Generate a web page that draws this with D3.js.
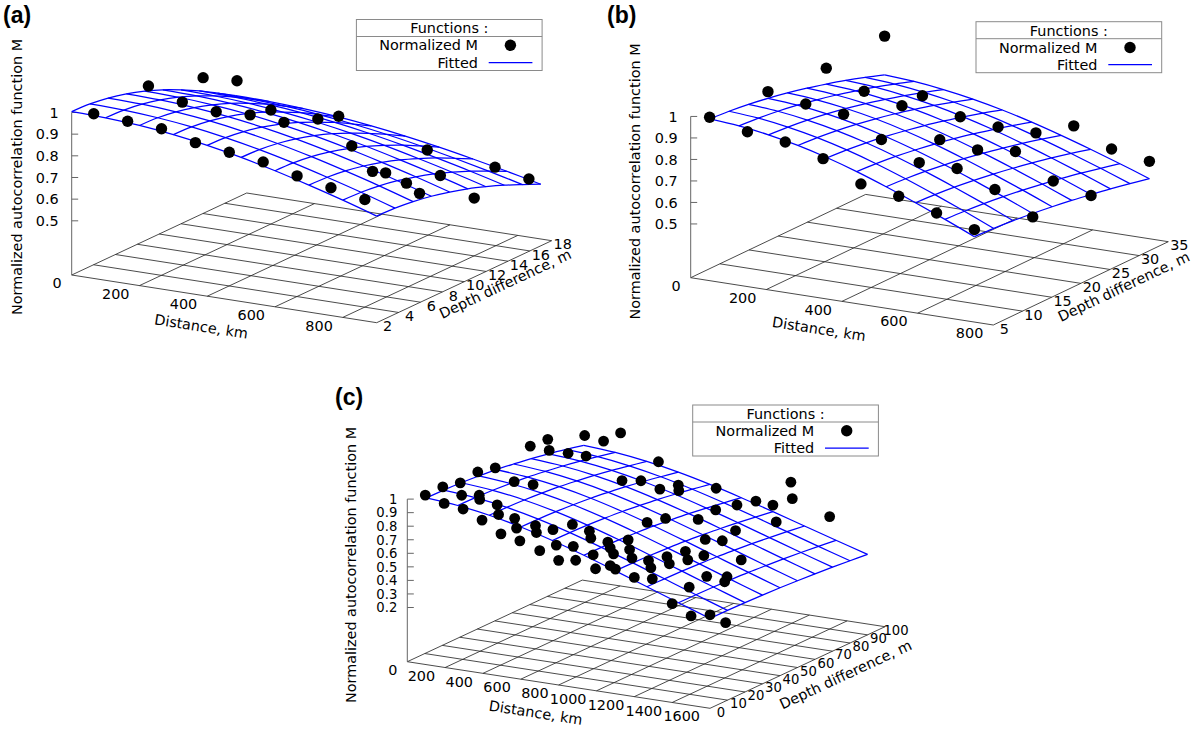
<!DOCTYPE html>
<html><head><meta charset="utf-8">
<script src="https://cdn.jsdelivr.net/npm/d3@7"></script>
<style>body{margin:0;background:#fff}</style>
</head><body>
<svg id="chart" width="1200" height="729" xmlns="http://www.w3.org/2000/svg"></svg>
<script>
// ---------------- DATA ----------------
// Panel (a)
const aXTicks = [0,200,400,600,800];
const aYTicks = [2,4,6,8,10,12,14,16,18];
const aZTicks = [0.5,0.6,0.7,0.8,0.9,1];
const aDistance = [65,165,265,365,465,565,665,765,865, 65,165,265,365,465,565,665,765,865, 65,165,265,465,565,665,765,865, 565,765,865];
const aDepth    = [2,2,2,2,2,2,2,2,2, 7,7,7,7,7,7,7,7,7, 12,12,12,12,12,12,12,12, 17,17,17];
const aM        = [1.01,1.00,0.99,0.95,0.93,0.91,0.87,0.84,0.81, 1.02,0.97,0.95,0.96,0.95,0.99,0.89,0.79,0.72, 0.94,0.95,0.84,0.86,0.63,0.60,0.66,0.58, 0.61,0.58,0.55];
const aFitDistance = [0,100,200,300,400,500,600,700,800,900];
const aFitDistFactor = [1.004,1.000,0.989,0.971,0.946,0.915,0.878,0.836,0.791,0.742];
const aFitDepth = [2,3.67,5.33,7,8.67,10.33,12,13.67,15.33,17];
const aFitDepthFactor = [1,0.996,0.984,0.964,0.937,0.904,0.864,0.820,0.771,0.720];

// Panel (b)
const bXTicks = [0,200,400,600,800];
const bYTicks = [5,10,15,20,25,30,35];
const bZTicks = [0.5,0.6,0.7,0.8,0.9,1];
const bDistance = [50,150,250,350,450,550,650,750, 50,150,250,350,450,550,650,750, 50,150,250,350,450,550,650,750, 50,150,250,350,450,550,650,750];
const bDepth    = [5,5,5,5,5,5,5,5, 15,15,15,15,15,15,15,15, 25,25,25,25,25,25,25,25, 35,35,35,35,35,35,35,35];
const bM        = [1.01,0.97,0.95,0.90,0.81,0.78,0.73,0.68, 1.00,0.97,0.95,0.86,0.78,0.78,0.71,0.61, 0.98,0.90,0.86,0.73,0.71,0.73,0.62,0.58, 1.00,0.75,0.68,0.66,0.66,0.72,0.64,0.61];
const bFitDistance = [50,127.8,205.6,283.3,361.1,438.9,516.7,594.4,672.2,750];
const bFitDistFactor = [1.002,0.991,0.971,0.943,0.907,0.864,0.815,0.762,0.706,0.647];
const bFitDepth = [5,8.33,11.67,15,18.33,21.67,25,28.33,31.67,35];
const bFitDepthFactor = [1,0.993,0.982,0.967,0.949,0.928,0.904,0.878,0.849,0.818];

// Panel (c)
const cXTicks = [0,200,400,600,800,1000,1200,1400,1600];
const cYTicks = [0,10,20,30,40,50,60,70,80,90,100];
const cZTicks = [0.2,0.3,0.4,0.5,0.6,0.7,0.8,0.9,1];
const cDistance = [95,95,95,95,95,195,195,195,290,295, 395,290,390,195,295,495,475,485,595,585, 590,700,585,695,800,595,785,890,685,785, 890,995,875,795,905,980,1100,395,890,990, 1095,1200,495,805,1090,1195,1295,595,810,1095, 1200,1400,600,695,1100,1205,1305,1500,890,1105, 1020,1305,1600,800,890,1110,1400,1320,1590,910, 995,1210,1010,1100,1210,1195,1295,1400,95,95, 195,110,105,205,205,295,495];
const cDepth = [0,10,20,30,40,0,10,20,10,0, 0,20,10,40,40,0,10,10,0,10, 10,0,20,10,0,30,10,0,30,20, 10,0,20,30,20,10,0,80,30,20, 10,0,80,50,20,10,0,80,60,30, 20,0,90,80,40,30,20,0,70,50, 60,30,0,90,80,60,30,40,10,90, 80,60,90,90,80,90,80,90,60,70, 60,80,90,80,90,90,90];
const cM = [1.05,1.05,1.02,1.04,1.01,1.01,1.01,0.95,1.00,0.99, 0.93,0.90,0.91,0.93,0.93,0.85,0.90,0.83,0.82,0.87, 0.82,0.77,0.78,0.75,0.72,0.76,0.76,0.74,0.73,0.76, 0.72,0.70,0.75,0.63,0.67,0.66,0.72,0.74,0.71,0.72, 0.74,0.68,0.76,0.70,0.66,0.69,0.69,0.72,0.67,0.63, 0.66,0.53,0.69,0.73,0.61,0.63,0.51,0.46,0.62,0.52, 0.56,0.53,0.49,0.71,0.63,0.57,0.51,0.47,0.37,0.61, 0.50,0.45,0.66,0.65,0.61,0.84,0.80,0.63,1.05,1.04, 1.04,0.88,0.95,0.88,0.93,1.01,0.84];
const cFitDistance = [100,266.7,433.3,600,766.7,933.3,1100,1266.7,1433.3,1600];
const cFitDistFactor = [1.030,1.010,0.974,0.923,0.859,0.786,0.707,0.625,0.543,0.463];
const cFitDepth = [0,10,20,30,40,50,60,70,80,90];
const cFitDepthFactor = [1,0.998,0.992,0.982,0.969,0.951,0.931,0.907,0.880,0.851];

const legendTitle = 'Functions :';
const legendPoints = 'Normalized M';
const legendFit = 'Fitted';
const zAxisTitle = 'Normalized autocorrelation function M';
const xAxisTitle = 'Distance, km';
const yAxisTitle = 'Depth difference, m';

// ---------------- LAYOUT ----------------
const FONT = '"DejaVu Sans", Verdana, sans-serif';
const FS = 14.4;
const BLUE = '#0000ff';

const panels = [
  { name:'(a)', nameAt:[3,23], origin:[71.7,275], xVec:[305,47.7], yVec:[175,-82],
    zPerUnit:216.7, zBase:0.25, xDomain:[0,900], yDomain:[2,18],
    xTicks:aXTicks, yTicks:aYTicks, zTicks:aZTicks,
    px:aDistance, py:aDepth, pz:aM,
    fx:aFitDistance, fxv:aFitDistFactor, fy:aFitDepth, fyv:aFitDepthFactor,
    legendAt:[356.4,19.5], zLabelAt:[17,177], zGap:13, zFont:FS, yFont:FS, depthOff:[41,2], r:5.7 },
  { name:'(b)', nameAt:[607,23], origin:[690.7,277.7], xVec:[302.6,47.3], yVec:[175,-83.3],
    zPerUnit:215, zBase:0.25, xDomain:[0,800], yDomain:[5,35],
    xTicks:bXTicks, yTicks:bYTicks, zTicks:bZTicks,
    px:bDistance, py:bDepth, pz:bM,
    fx:bFitDistance, fxv:bFitDistFactor, fy:bFitDepth, fyv:bFitDepthFactor,
    legendAt:[976,21.7], zLabelAt:[635,181.5], zGap:13, zFont:FS, yFont:FS, depthOff:[43,3], r:5.7 },
  { name:'(c)', nameAt:[335,405], origin:[407.3,661.7], xVec:[302.7,46.6], yVec:[175,-81.6],
    zPerUnit:135.5, zBase:-0.2, xDomain:[0,1600], yDomain:[0,100],
    xTicks:cXTicks, yTicks:cYTicks, zTicks:cZTicks,
    px:cDistance, py:cDepth, pz:cM,
    fx:cFitDistance, fxv:cFitDistFactor, fy:cFitDepth, fyv:cFitDepthFactor,
    legendAt:[692.7,405], zLabelAt:[351,565], zGap:10, zFont:13.2, yFont:13.2, depthOff:[48,7], r:5.4 }
];

const svg = d3.select('#chart');
svg.append('rect').attr('width',1200).attr('height',729).attr('fill','#fff');

function txt(g, s, x, y, anchor, opts={}) {
  const t = g.append('text').attr('x',x).attr('y',y).attr('text-anchor',anchor)
    .attr('dy','0.36em').attr('font-family',opts.family||FONT)
    .attr('font-size',opts.size||FS).attr('fill','#000').text(s);
  if (opts.weight) t.attr('font-weight',opts.weight);
  if (opts.rotate!==undefined) t.attr('transform',`rotate(${opts.rotate},${x},${y})`);
  return t;
}

function drawPanel(p) {
  const g = svg.append('g');
  const u = d3.scaleLinear().domain(p.xDomain).range([0,1]);
  const v = d3.scaleLinear().domain(p.yDomain).range([0,1]);
  const w = d3.scaleLinear().domain([p.zBase,1]).range([0,p.zPerUnit*(1-p.zBase)]);
  const proj = (x,y,z) => {
    const a=u(x), b=v(y), h=w(z);
    return [p.origin[0]+p.xVec[0]*a+p.yVec[0]*b, p.origin[1]+p.xVec[1]*a+p.yVec[1]*b-h];
  };
  const [x0,x1]=p.xDomain, [y0,y1]=p.yDomain, zb=p.zBase;

  // base grid
  const gridX = Array.from(new Set([x0,...p.xTicks.filter(t=>t>=x0&&t<=x1),x1]));
  const gridY = Array.from(new Set([y0,...p.yTicks.filter(t=>t>=y0&&t<=y1),y1]));
  const grid = g.append('g').attr('stroke','#2a2a2a').attr('stroke-width',0.85).attr('fill','none');
  gridX.forEach(x=>{ const A=proj(x,y0,zb),B=proj(x,y1,zb);
    grid.append('line').attr('x1',A[0]).attr('y1',A[1]).attr('x2',B[0]).attr('y2',B[1]); });
  gridY.forEach(y=>{ const A=proj(x0,y,zb),B=proj(x1,y,zb);
    grid.append('line').attr('x1',A[0]).attr('y1',A[1]).attr('x2',B[0]).attr('y2',B[1]); });

  // z axis
  const zA=proj(x0,y0,zb), zB=proj(x0,y0,1);
  g.append('line').attr('x1',zA[0]).attr('y1',zA[1]).attr('x2',zB[0]).attr('y2',zB[1])
    .attr('stroke','#666').attr('stroke-width',1);
  p.zTicks.forEach(z=>{
    const P=proj(x0,y0,z);
    g.append('line').attr('x1',P[0]).attr('y1',P[1]).attr('x2',P[0]+6.5).attr('y2',P[1])
      .attr('stroke','#666').attr('stroke-width',1);
    txt(g, z===1?'1':d3.format('.1f')(z), P[0]-p.zGap, P[1], 'end', {size:p.zFont});
  });

  // x tick labels
  p.xTicks.forEach(x=>{ const P=proj(x,y0,zb); txt(g, String(x), P[0]-10, P[1]+8, 'end'); });
  // y tick labels
  p.yTicks.forEach(y=>{ const P=proj(x1,y,zb); txt(g, String(y), P[0]+11, P[1]+3.5, 'middle', {size:p.yFont}); });

  // axis titles
  const angX = Math.atan2(p.xVec[1],p.xVec[0])*180/Math.PI;
  const angY = Math.atan2(p.yVec[1],p.yVec[0])*180/Math.PI;
  const mX = proj((x0+x1)/2,y0,zb);
  txt(g, xAxisTitle, mX[0]-23, mX[1]+27.5, 'middle', {rotate:angX});
  const mY = proj(x1,(y0+y1)/2,zb);
  txt(g, yAxisTitle, mY[0]+p.depthOff[0], mY[1]+p.depthOff[1], 'middle', {rotate:angY});
  txt(g, zAxisTitle, p.zLabelAt[0], p.zLabelAt[1], 'middle', {rotate:-90});

  // panel label
  g.append('text').attr('x',p.nameAt[0]).attr('y',p.nameAt[1])
    .attr('font-family','"Liberation Sans", Arial, sans-serif').attr('font-weight','bold')
    .attr('font-size',23).attr('fill','#000').text(p.name);

  // fitted surface
  const line = d3.line().curve(d3.curveCatmullRom.alpha(0.5));
  const surf = g.append('g').attr('stroke',BLUE).attr('stroke-width',1.25).attr('fill','none');
  p.fx.forEach((xv,i)=>{
    const pts = p.fy.map((yv,j)=>proj(xv,yv,p.fxv[i]*p.fyv[j]));
    surf.append('path').attr('d',line(pts));
  });
  p.fy.forEach((yv,j)=>{
    const pts = p.fx.map((xv,i)=>proj(xv,yv,p.fxv[i]*p.fyv[j]));
    surf.append('path').attr('d',line(pts));
  });

  // data points
  const dots = g.append('g').attr('fill','#000');
  p.px.forEach((xv,k)=>{
    const P=proj(xv,p.py[k],p.pz[k]);
    dots.append('circle').attr('cx',P[0]).attr('cy',P[1]).attr('r',p.r);
  });

  // legend
  const [lx,ly]=p.legendAt, lw=185.7, lh=51;
  const lg = g.append('g');
  lg.append('rect').attr('x',lx).attr('y',ly).attr('width',lw).attr('height',lh)
    .attr('fill','#fff').attr('stroke','#8a8a8a').attr('stroke-width',1);
  lg.append('line').attr('x1',lx).attr('x2',lx+lw).attr('y1',ly+17).attr('y2',ly+17)
    .attr('stroke','#8a8a8a').attr('stroke-width',1);
  txt(lg, legendTitle, lx+lw/2, ly+8.7, 'middle');
  txt(lg, legendPoints, lx+121.5, ly+25.8, 'end');
  lg.append('circle').attr('cx',lx+154).attr('cy',ly+25.8).attr('r',5.7).attr('fill','#000');
  txt(lg, legendFit, lx+121.5, ly+43, 'end');
  lg.append('line').attr('x1',lx+132.3).attr('x2',lx+176).attr('y1',ly+43).attr('y2',ly+43)
    .attr('stroke',BLUE).attr('stroke-width',1.25);
}

panels.forEach(drawPanel);
</script>
</body></html>
